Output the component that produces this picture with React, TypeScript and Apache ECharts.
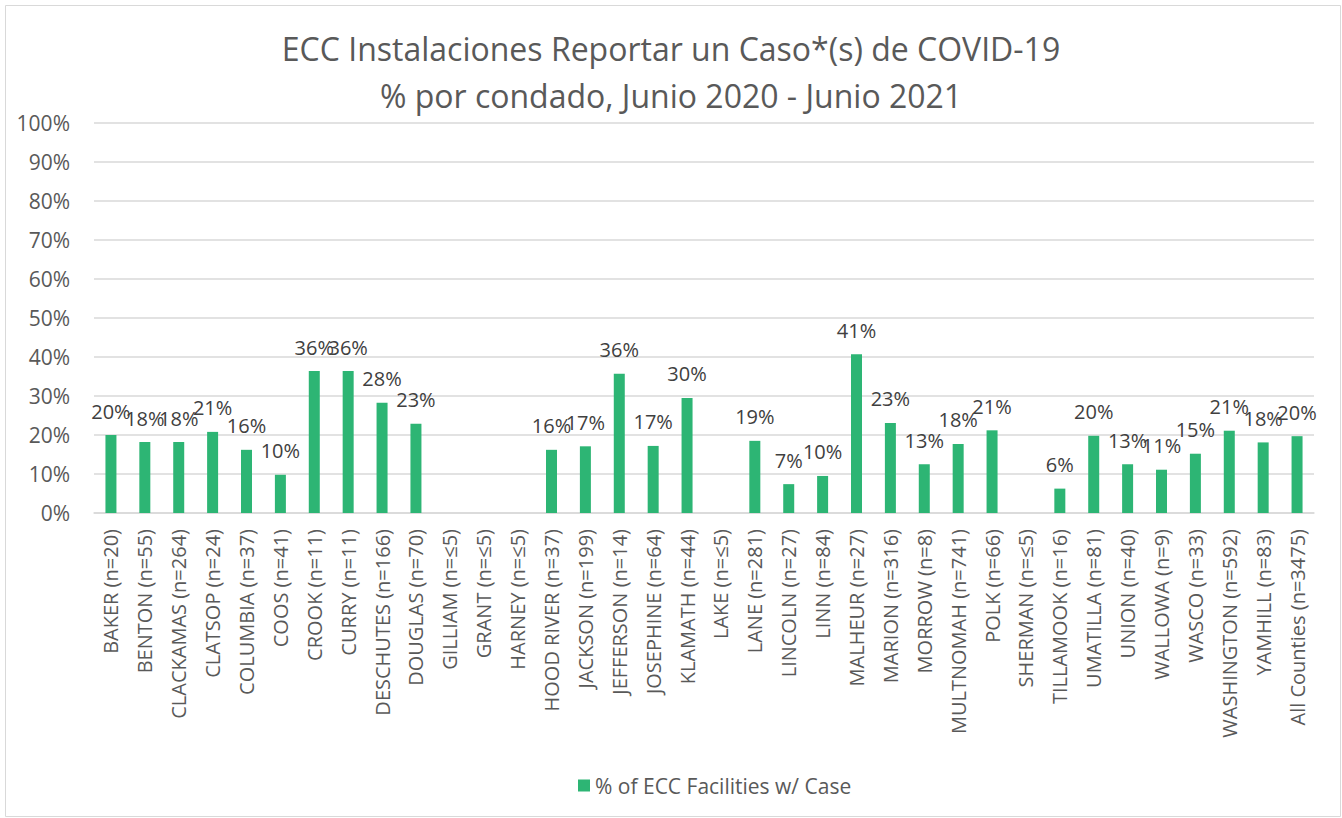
import React, { useEffect, useRef } from "react";
import * as echarts from "echarts";

const titleLines = [
  "ECC Instalaciones Reportar un Caso*(s) de COVID-19",
  "% por condado, Junio 2020 - Junio 2021",
];
const seriesName = "% of ECC Facilities w/ Case";
const categories = [
  "BAKER (n=20)", "BENTON (n=55)", "CLACKAMAS (n=264)", "CLATSOP (n=24)",
  "COLUMBIA (n=37)", "COOS (n=41)", "CROOK (n=11)", "CURRY (n=11)",
  "DESCHUTES (n=166)", "DOUGLAS (n=70)", "GILLIAM (n=≤5)", "GRANT (n=≤5)",
  "HARNEY (n=≤5)", "HOOD RIVER (n=37)", "JACKSON (n=199)", "JEFFERSON (n=14)",
  "JOSEPHINE (n=64)", "KLAMATH (n=44)", "LAKE (n=≤5)", "LANE (n=281)",
  "LINCOLN (n=27)", "LINN (n=84)", "MALHEUR (n=27)", "MARION (n=316)",
  "MORROW (n=8)", "MULTNOMAH (n=741)", "POLK (n=66)", "SHERMAN (n=≤5)",
  "TILLAMOOK (n=16)", "UMATILLA (n=81)", "UNION (n=40)", "WALLOWA (n=9)",
  "WASCO (n=33)", "WASHINGTON (n=592)", "YAMHILL (n=83)", "All Counties (n=3475)",
];
const values = [
  0.2, 0.182, 0.182, 0.208,
  0.162, 0.098, 0.364, 0.364,
  0.283, 0.229, 0, 0,
  0, 0.162, 0.171, 0.357,
  0.172, 0.295, 0, 0.185,
  0.074, 0.095, 0.407, 0.231,
  0.125, 0.177, 0.212, 0,
  0.0625, 0.198, 0.125, 0.111,
  0.152, 0.211, 0.181, 0.197,
];

const FONT = "'Open Sans', 'Noto Sans', sans-serif";

export default function App() {
  const ref = useRef<HTMLDivElement>(null);
  useEffect(() => {
    document.body.style.margin = "0";
    const chart = echarts.init(ref.current!, null, { renderer: "svg" });
    chart.setOption({
      animation: false,
      backgroundColor: "#ffffff",
      textStyle: { fontFamily: FONT },
      title: {
        text: titleLines.join("\n"),
        left: "center",
        top: 20,
        textStyle: {
          fontFamily: FONT,
          fontSize: 32,
          fontWeight: "normal",
          color: "#595959",
          lineHeight: 47,
        },
      },
      graphic: [
        {
          type: "rect",
          shape: { x: 5.5, y: 5.5, width: 1335, height: 811 },
          style: { fill: "none", stroke: "#d9d9d9", lineWidth: 1 },
          silent: true,
        },
      ],
      legend: {
        bottom: 17,
        left: 573,
        itemWidth: 12,
        itemHeight: 12,
        itemGap: 8,
        icon: "rect",
        textStyle: { fontFamily: FONT, fontSize: 21, color: "#595959" },
        data: [seriesName],
      },
      grid: { left: 94, right: 28, top: 123, bottom: 305, containLabel: false },
      xAxis: {
        type: "category",
        data: categories,
        axisLine: { show: true, lineStyle: { color: "#d9d9d9", width: 1.5 } },
        axisTick: { show: false },
        axisLabel: {
          rotate: 90,
          interval: 0,
          margin: 16,
          fontFamily: FONT,
          fontSize: 20,
          color: "#595959",
        },
      },
      yAxis: {
        type: "value",
        min: 0,
        max: 1,
        interval: 0.1,
        axisLine: { show: false },
        axisTick: { show: false },
        splitLine: { lineStyle: { color: "#d9d9d9", width: 1.5 } },
        axisLabel: {
          formatter: (v: number) => Math.round(v * 100) + "%",
          fontFamily: FONT,
          fontSize: 21,
          color: "#595959",
          margin: 24,
        },
      },
      series: [
        {
          name: seriesName,
          type: "bar",
          data: values,
          barWidth: 11,
          itemStyle: { color: "#2db574" },
          label: {
            show: true,
            position: "top",
            distance: 14,
            fontFamily: FONT,
            fontSize: 20,
            color: "#404040",
            formatter: (p: any) => (p.value > 0 ? Math.round(p.value * 100) + "%" : ""),
          },
        },
      ],
    });
    return () => chart.dispose();
  }, []);
  return <div ref={ref} style={{ width: 1342, height: 818 }} />;
}
